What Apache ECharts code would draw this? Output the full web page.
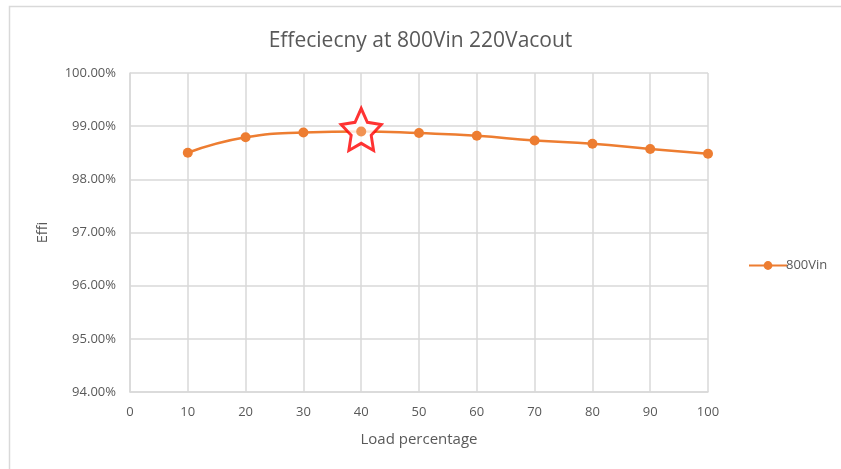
<!DOCTYPE html>
<html>
<head>
<meta charset="utf-8">
<script src="https://cdn.jsdelivr.net/npm/echarts@6/dist/echarts.min.js"></script>
<style>
  html, body { margin: 0; padding: 0; background: #ffffff; }
  #chart { width: 841px; height: 469px; }
</style>
</head>
<body>
<div id="chart"></div>
<script>
// Load percentage (x) and efficiency in percent (y)
const loadPct = [10, 20, 30, 40, 50, 60, 70, 80, 90, 100];
const eff800Vin = [98.50, 98.79, 98.88, 98.90, 98.87, 98.82, 98.73, 98.67, 98.57, 98.48];
// Point highlighted with a star
const highlightLoad = 40;

const titleText = 'Effeciecny at 800Vin 220Vacout';
const seriesName = '800Vin';
const xName = 'Load percentage';
const yName = 'Effi';

const FONT = '"Open Sans", "Noto Sans", sans-serif';
const TXT = '#595959';
const GRID = '#d9d9d9';
const ORANGE = '#ed7d31';

const lineData = loadPct.map((x, i) => [x, eff800Vin[i]]);
const hiIdx = loadPct.indexOf(highlightLoad);
const hiPoint = [[loadPct[hiIdx], eff800Vin[hiIdx]]];

// Five-pointed star outline
function starPath() {
  const pts = [];
  for (let k = 0; k < 10; k++) {
    const r = k % 2 === 0 ? 50 : 25;
    const a = -Math.PI / 2 + k * Math.PI / 5;
    pts.push((50 + r * Math.cos(a)).toFixed(2) + ',' + (50 + r * Math.sin(a)).toFixed(2));
  }
  return 'path://M' + pts.join('L') + 'Z';
}

const chart = echarts.init(document.getElementById('chart'), null, { renderer: 'canvas' });
chart.setOption({
  animation: false,
  backgroundColor: '#ffffff',
  graphic: [{
    type: 'rect',
    shape: { x: 9.5, y: 6.5, width: 900, height: 500 },
    style: { fill: 'none', stroke: GRID, lineWidth: 1.5 },
    silent: true, z: -1
  }],
  title: {
    text: titleText,
    left: 'center',
    top: 26,
    textStyle: { fontFamily: FONT, fontSize: 21, fontWeight: 'normal', color: TXT }
  },
  legend: {
    data: [{ name: seriesName }],
    orient: 'vertical',
    left: 743,
    top: 254,
    itemWidth: 38,
    itemHeight: 11,
    itemGap: 4,
    textStyle: { fontFamily: FONT, fontSize: 13, color: TXT, padding: [0, 0, 0, -6] }
  },
  grid: { left: 130, right: 133, top: 73, bottom: 77, containLabel: false },
  xAxis: {
    type: 'value',
    min: 0, max: 100, interval: 10,
    name: xName,
    nameLocation: 'middle',
    nameGap: 40,
    nameTextStyle: { fontFamily: FONT, fontSize: 15, color: TXT },
    axisLine: { show: true, lineStyle: { color: GRID, width: 1.5 } },
    axisTick: { show: false },
    axisLabel: { fontFamily: FONT, fontSize: 13, color: TXT, margin: 14 },
    splitLine: { show: true, lineStyle: { color: GRID, width: 1.5 } }
  },
  yAxis: {
    type: 'value',
    min: 94, max: 100, interval: 1,
    name: yName,
    nameLocation: 'middle',
    nameGap: 80,
    nameRotate: 90,
    nameTextStyle: { fontFamily: FONT, fontSize: 14.5, color: TXT },
    axisLine: { show: true, lineStyle: { color: GRID, width: 1.5 } },
    axisTick: { show: false },
    axisLabel: {
      fontFamily: FONT, fontSize: 13, color: TXT, margin: 14,
      formatter: v => v.toFixed(2) + '%'
    },
    splitLine: { show: true, lineStyle: { color: GRID, width: 1.5 } }
  },
  series: [
    {
      name: seriesName,
      type: 'line',
      data: lineData,
      smooth: 0.5,
      symbol: 'circle',
      symbolSize: 10,
      lineStyle: { color: ORANGE, width: 2.5 },
      itemStyle: { color: ORANGE },
      z: 2
    },
    {
      name: 'star',
      type: 'scatter',
      data: hiPoint,
      symbol: starPath(),
      symbolSize: [40, 42],
      symbolOffset: [0, -2],
      itemStyle: { color: '#ffffff', borderColor: '#ff0000', borderWidth: 3 },
      z: 3,
      silent: true
    },
    {
      name: 'dot',
      type: 'scatter',
      data: hiPoint,
      symbol: 'circle',
      symbolSize: 10,
      itemStyle: { color: ORANGE },
      z: 4,
      silent: true
    }
  ]
});
</script>
</body>
</html>
